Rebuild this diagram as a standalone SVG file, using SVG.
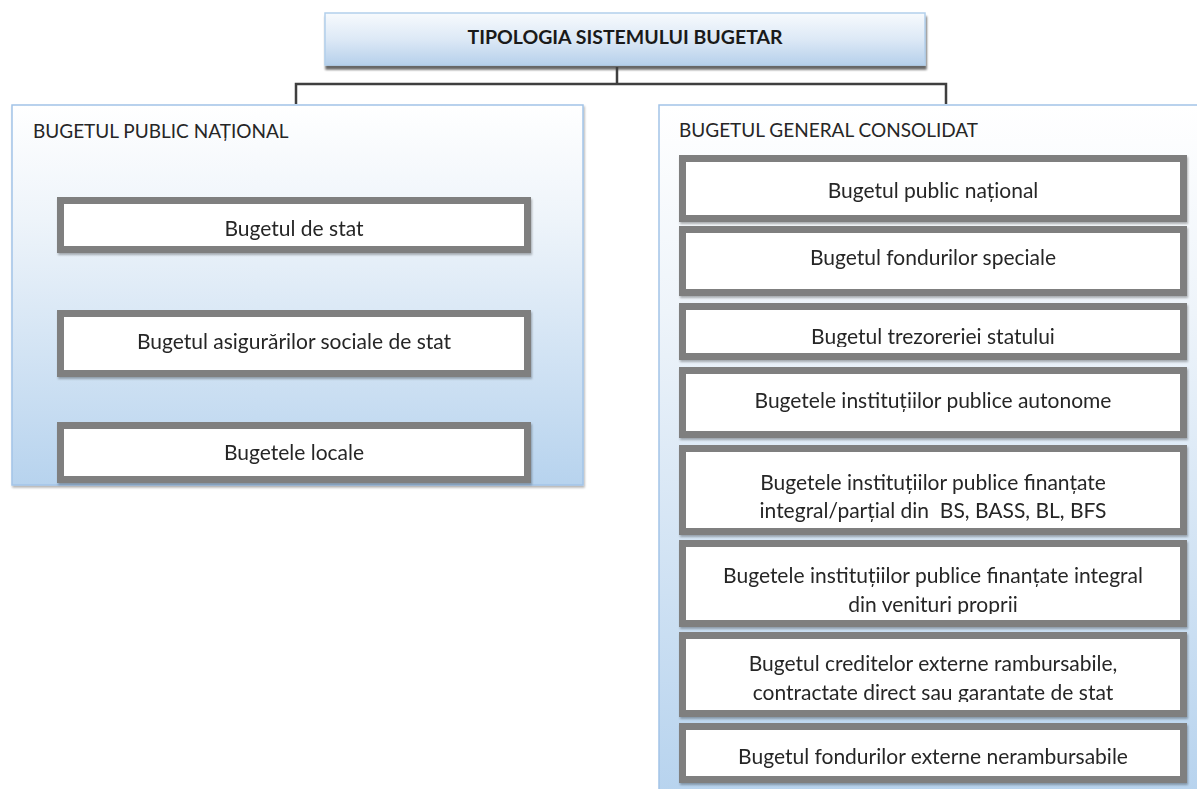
<svg xmlns="http://www.w3.org/2000/svg" width="1197" height="789" viewBox="0 0 1197 789">
<defs>
<linearGradient id="gTop" x1="0" y1="0" x2="0" y2="1">
<stop offset="0" stop-color="#f7fafd"/>
<stop offset="0.5" stop-color="#dde9f6"/>
<stop offset="1" stop-color="#b6d0eb"/>
</linearGradient>
<linearGradient id="gCont" x1="0" y1="0" x2="0" y2="1">
<stop offset="0" stop-color="#ffffff"/>
<stop offset="0.3" stop-color="#eef4fa"/>
<stop offset="1" stop-color="#b7d3ee"/>
</linearGradient>
<filter id="sh" x="-5%" y="-20%" width="110%" height="150%">
<feGaussianBlur in="SourceAlpha" stdDeviation="1.2"/>
<feOffset dx="1" dy="4" result="b"/>
<feComponentTransfer><feFuncA type="linear" slope="0.6"/></feComponentTransfer>
<feMerge><feMergeNode/><feMergeNode in="SourceGraphic"/></feMerge>
</filter>
<filter id="sh2" x="-5%" y="-10%" width="110%" height="130%">
<feGaussianBlur in="SourceAlpha" stdDeviation="1"/>
<feOffset dx="1" dy="2" result="b"/>
<feComponentTransfer><feFuncA type="linear" slope="0.3"/></feComponentTransfer>
<feMerge><feMergeNode/><feMergeNode in="SourceGraphic"/></feMerge>
</filter>
<clipPath id="c3"><rect x="680" y="300" width="510" height="47"/></clipPath>
<clipPath id="c6"><rect x="680" y="540" width="510" height="74"/></clipPath>
<clipPath id="c7"><rect x="680" y="630" width="510" height="72"/></clipPath>
</defs>
<style>
text{font-family:Lato,"Liberation Sans",sans-serif;fill:#262626}
.title{font-size:19.5px;font-weight:bold;text-anchor:middle;fill:#1a1a1a}
.lbl{font-size:19px}
.t{font-size:21px;text-anchor:middle}
.cont{fill:url(#gCont);stroke:#a3c4e8;stroke-width:1.5}
.inner{fill:#ffffff}
.bd{fill:none;stroke:#7f7f7f;stroke-width:7}
.con{fill:none;stroke:#3f3f3f;stroke-width:2.5}
</style>
<rect width="1197" height="789" fill="#ffffff"/>

<g id="root">
<rect x="325" y="13" width="600" height="52" fill="url(#gTop)" stroke="#b3cfeb" stroke-width="1.5" filter="url(#sh)"/>
<text class="title" x="625" y="44">TIPOLOGIA SISTEMULUI BUGETAR</text>
</g>

<g id="connectors">
<path class="con" d="M617 67 V84"/>
<path class="con" d="M296 104 V84 H946 V104"/>
</g>

<g id="bpn">
<rect class="cont" x="12" y="105" width="571" height="380" filter="url(#sh2)"/>
<text class="lbl" x="33" y="138">BUGETUL PUBLIC NAȚIONAL</text>
</g>

<g id="bgc">
<rect class="cont" x="659" y="105" width="560" height="690"/>
<text class="lbl" x="679" y="137">BUGETUL GENERAL CONSOLIDAT</text>
</g>

<g id="l1" filter="url(#sh2)">
<rect class="inner" x="60.5" y="200.5" width="467" height="49"/>
<text class="t" x="294" y="235.5">Bugetul de stat</text>
<rect class="bd" x="60.5" y="200.5" width="467" height="49"/>
</g>
<g id="l2" filter="url(#sh2)">
<rect class="inner" x="60.5" y="313.5" width="467" height="60"/>
<text class="t" x="294" y="348.5">Bugetul asigurărilor sociale de stat</text>
<rect class="bd" x="60.5" y="313.5" width="467" height="60"/>
</g>
<g id="l3" filter="url(#sh2)">
<rect class="inner" x="60.5" y="425.5" width="467" height="54"/>
<text class="t" x="294" y="459.5">Bugetele locale</text>
<rect class="bd" x="60.5" y="425.5" width="467" height="54"/>
</g>

<g id="r1" filter="url(#sh2)">
<rect class="inner" x="682.5" y="158.5" width="501" height="60"/>
<text class="t" x="933" y="197.5">Bugetul public național</text>
<rect class="bd" x="682.5" y="158.5" width="501" height="60"/>
</g>
<g id="r2" filter="url(#sh2)">
<rect class="inner" x="682.5" y="229.5" width="501" height="63"/>
<text class="t" x="933" y="264.5">Bugetul fondurilor speciale</text>
<rect class="bd" x="682.5" y="229.5" width="501" height="63"/>
</g>
<g id="r3" filter="url(#sh2)">
<rect class="inner" x="682.5" y="306.5" width="501" height="50"/>
<text class="t" x="933" y="344" clip-path="url(#c3)">Bugetul trezoreriei statului</text>
<rect class="bd" x="682.5" y="306.5" width="501" height="50"/>
</g>
<g id="r4" filter="url(#sh2)">
<rect class="inner" x="682.5" y="370.5" width="501" height="64"/>
<text class="t" x="933" y="407.5">Bugetele instituțiilor publice autonome</text>
<rect class="bd" x="682.5" y="370.5" width="501" height="64"/>
</g>
<g id="r5" filter="url(#sh2)">
<rect class="inner" x="682.5" y="448.5" width="501" height="83"/>
<text class="t" x="933" y="489.5">Bugetele instituțiilor publice finanțate</text>
<text class="t" x="933" y="517.5" xml:space="preserve">integral/parțial din  BS, BASS, BL, BFS</text>
<rect class="bd" x="682.5" y="448.5" width="501" height="83"/>
</g>
<g id="r6" filter="url(#sh2)">
<rect class="inner" x="682.5" y="543.5" width="501" height="80"/>
<text class="t" x="933" y="582.5">Bugetele instituțiilor publice finanțate integral</text>
<text class="t" x="933" y="611.5" clip-path="url(#c6)">din venituri proprii</text>
<rect class="bd" x="682.5" y="543.5" width="501" height="80"/>
</g>
<g id="r7" filter="url(#sh2)">
<rect class="inner" x="682.5" y="635.5" width="501" height="78"/>
<text class="t" x="933" y="670.5">Bugetul creditelor externe rambursabile,</text>
<text class="t" x="933" y="699.5" clip-path="url(#c7)">contractate direct sau garantate de stat</text>
<rect class="bd" x="682.5" y="635.5" width="501" height="78"/>
</g>
<g id="r8" filter="url(#sh2)">
<rect class="inner" x="682.5" y="726.5" width="501" height="53"/>
<text class="t" x="933" y="763.5">Bugetul fondurilor externe nerambursabile</text>
<rect class="bd" x="682.5" y="726.5" width="501" height="53"/>
</g>
</svg>
